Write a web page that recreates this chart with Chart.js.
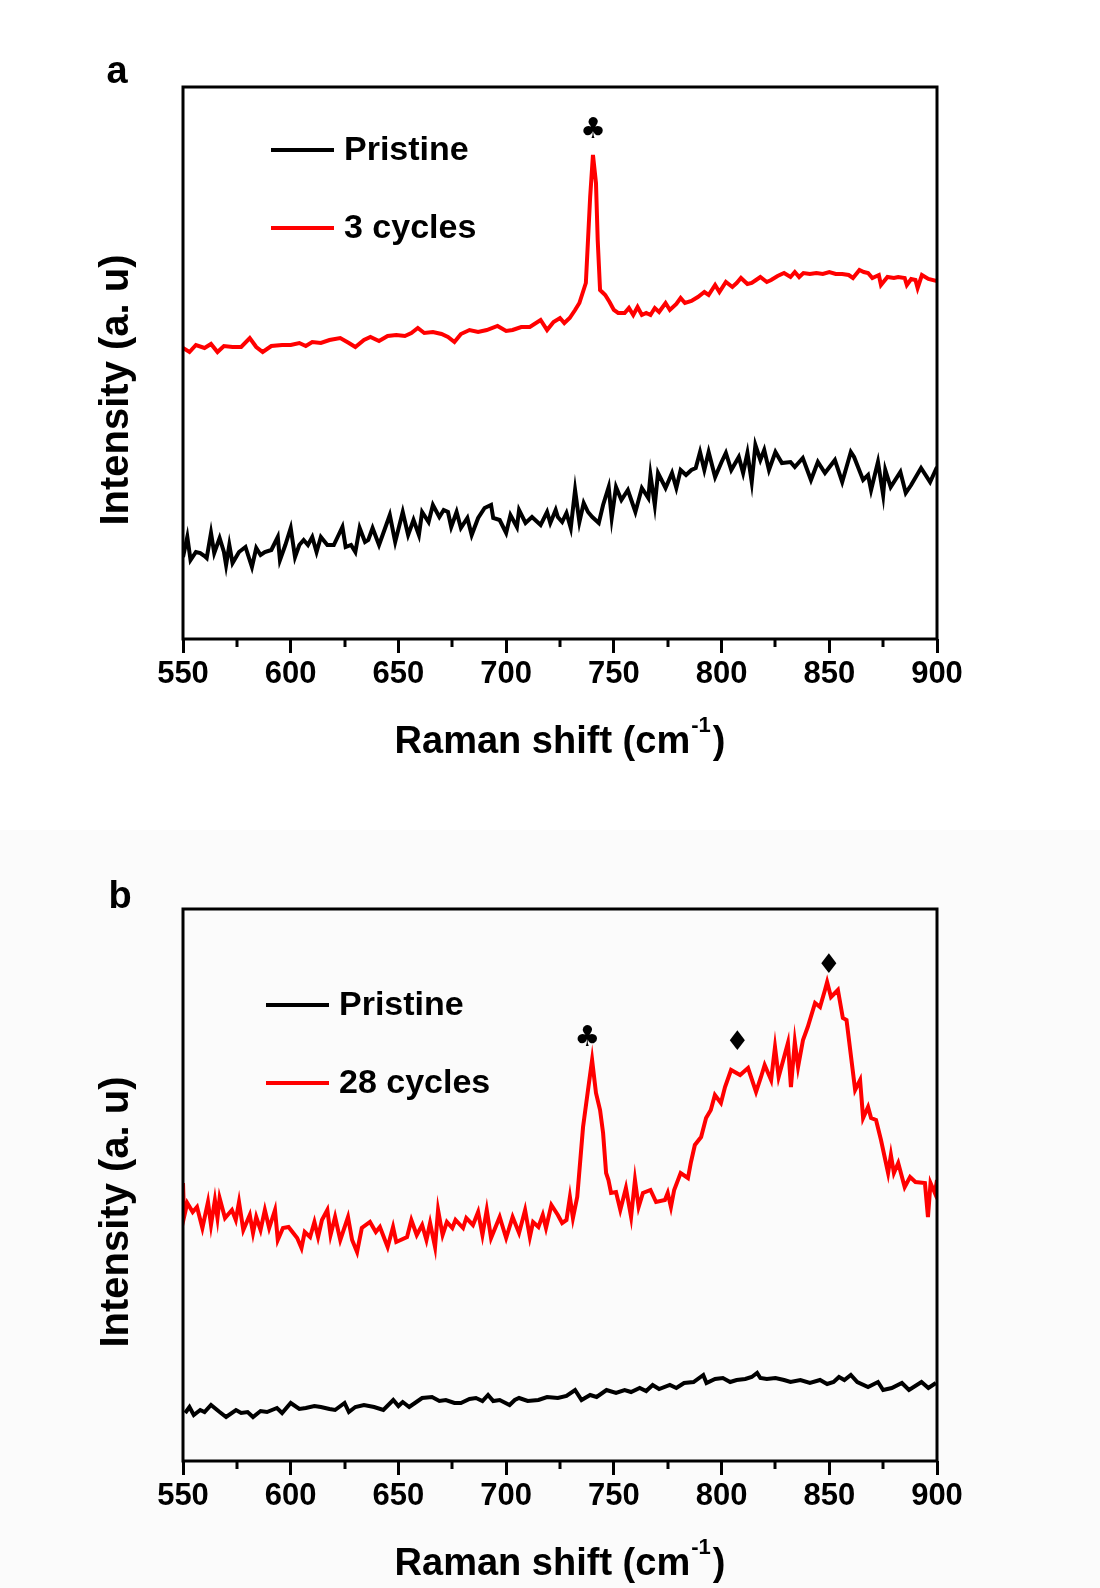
<!DOCTYPE html>
<html>
<head>
<meta charset="utf-8">
<title>Raman spectra</title>
<script src="https://cdn.jsdelivr.net/npm/chart.js@4.4.1/dist/chart.umd.min.js"></script>
<style>
  html, body { margin: 0; padding: 0; background: #fff; }
  #wrap { position: relative; width: 1100px; height: 1588px; }
  #panel-a { position: absolute; left: 0; top: 0; }
  #panel-b { position: absolute; left: 0; top: 830px; background: #fbfbfb; }
</style>
</head>
<body>
<div id="wrap">
  <canvas id="panel-a" width="1100" height="830"></canvas>
  <canvas id="panel-b" width="1100" height="758"></canvas>
</div>
<script>
// DATA  [Raman shift (cm-1), intensity (a.u.)]

var pristineA = [[550,82],[552,102],[553.5,79],[556,87],[558,86],[560,83],[561,81],[563,106],[564.5,86],[567,101],[569,87],[570,74],[571.5,94],[573,76],[576,87],[579,92],[582,72],[584,91],[586,84],[588,87],[591,89],[594,102],[595,79],[597.5,94],[600,111],[602,82],[604,94],[606,99],[608,94],[610,102],[612,87],[614,102],[617,94],[620,94],[622,103],[624,112],[625.5,92],[628,94],[630,87],[632,111],[634.5,97],[636,99],[638,111],[641,94],[643,106],[646,124],[648.5,97],[652,127],[654.5,104],[657,119],[659.5,104],[661,127],[664,117],[666,134],[669,122],[671,129],[673,127],[674.5,112],[677,127],[679,111],[682,121],[684,104],[687,121],[690,131],[693,134],[694,121],[697,119],[700,106],[702,124],[705,112],[706,129],[709,116],[712,122],[714,118],[716,114],[719,127],[720.5,116],[723,129],[724,122],[726,117],[728,126],[730,111],[732,149],[734,117],[736,136],[738,127],[740,122],[743,116],[745,134],[747.6,152],[749,121],[751,152],[753.5,139],[756.5,149],[760,127],[763,151],[766,141],[767,164],[769,134],[770.5,166],[774,151],[777,166],[779,151],[781,169],[783.5,164],[786,169],[788,171],[790,187],[792,169],[794,187],[797,162],[800,177],[802,186],[804.5,169],[808,182],[810,166],[812,186],[814,157],[815.7,194],[818,179],[819.8,189],[822,169],[825,187],[828,176],[832,177],[834,172],[837.7,181],[841.5,159],[844.7,177],[848,166],[852.6,179],[856,157],[858,172],[860,187],[861.5,182],[865.7,159],[868,164],[869.4,149],[872.6,177],[875,144],[876,169],[878.5,152],[883,167],[885.5,146],[888,154],[892.6,171],[896.8,157],[900,172]];

var cycles3 = [[550,291],[553,287],[556,294],[560,291],[563,295],[566,287],[569,293],[573,292],[577,292],[581,301],[584,292],[587,287],[591,293],[596,294],[600,294],[604,296],[607,293],[610,297],[614,296],[618,299],[623,301],[627,296],[630,292],[634,299],[637,302],[641,298],[645,303],[649,304],[653,303],[656,306],[659,311],[662,306],[666,307],[670,305],[673,302],[676,297],[679,305],[683,309],[687,307],[691,309],[696,313],[700,308],[703,309],[707,312],[711,312],[716,319],[719,309],[722,317],[725,321],[727,316],[729.5,321],[732,329],[734,336],[737,356],[738,399],[739,442],[740.3,484],[741.7,456],[742.5,399],[743.6,349],[746,344],[748,337],[750,329],[752,326],[755,326],[757,331],[759,324],[761,332],[763,324],[765,326],[767,324],[769,331],[771,327],[774,336],[776,329],[779,335],[781,341],[783,336],[786,338],[789,342],[792,347],[794,344],[797,354],[799,347],[802,357],[805,352],[807,356],[809,361],[812,355],[814,356],[816,359],[818,362],[821,357],[823,359],[826,363],[829,366],[832,362],[834,367],[836,362],[838,366],[841,365],[844,366],[847,365],[850,367],[853,365],[856,365],[859,364],[861,361],[864,369],[866,367],[868,366],[870,361],[873,364],[874,354],[877,362],[880,361],[882,362],[885,361],[886,354],[888,360],[890,359],[891,351],[893,364],[896,360],[900,358]];

var pristineB = [[551,48],[553,54],[555,46],[558,51],[560,49],[563,56],[567,49],[570,44],[574.6,51],[577,48],[580,49],[582.5,44],[586,50],[589,49],[593.6,53],[596,48],[600,58],[604,52],[607,53],[611,55],[614,54],[618,52],[620.6,51],[625,58],[627,49],[630,54],[634,56],[638.7,54],[643,51],[647.6,61],[650,55],[652,59],[655,54],[659,60],[661,63],[665.6,64],[669,60],[672,61],[676,58],[679,58],[683,62],[686,63],[689,60],[691.6,66],[694,60],[697,61],[701.6,56],[704,61],[706,63],[710,60],[715,61],[719,64],[724,63],[728,65],[732,71],[735,61],[739,66],[742,64],[746.6,71],[751,68],[755,71],[758,69],[762,73],[765,70],[768,76],[771,72],[776,76],[779,73],[782.6,78],[787,79],[791.5,86],[793,78],[797,82],[800.6,83],[804,79],[807,81],[811,82],[814,84],[816.5,88],[818,83],[821,82],[825,83],[829,81],[832,79],[836.6,81],[841,78],[845.7,81],[849,77],[852,79],[854.5,84],[857,81],[860,86],[863,79],[868,74],[872.6,79],[875,71],[879,73],[883.7,78],[887,71],[892.8,79],[896,73],[899.5,78]];

var cycles28 = [[550,278],[550.5,244],[552,258],[554.5,249],[556.5,254],[559,233],[561.6,259],[563,236],[564.8,261],[566,243],[567,263],[569.5,243],[572.7,251],[574.5,241],[576,259],[578,231],[581,246],[582.5,228],[584,244],[586,231],[588,251],[590,233],[592.7,251],[594,221],[596.4,233],[599,234],[603,223],[605,213],[606.5,229],[609,224],[611,239],[612.7,224],[614.5,241],[617,251],[618.5,226],[620.6,244],[623,221],[626.6,244],[628.5,221],[630.8,209],[633,233],[636.8,239],[639.5,229],[641.4,234],[645,214],[647.5,234],[649,219],[654,224],[656,241],[658.5,226],[661,236],[663,221],[664.7,238],[667,214],[668.4,251],[670.5,226],[672.5,239],[675,233],[676.5,241],[680,233],[681.5,243],[684.6,236],[687,249],[689,226],[691,251],[693,223],[697,244],[700,223],[703,244],[706,228],[708.8,251],[711,224],[712.5,239],[715,234],[717,246],[718.5,233],[721,256],[724,246],[726,238],[728,241],[729.6,264],[731,243],[733,264],[735.7,334],[738,371],[739.9,401],[741.7,368],[743.6,351],[745,328],[746.4,288],[747.5,281],[748.7,268],[751,269],[753,251],[755.6,273],[758,244],[759.8,281],[761.5,254],[763.5,268],[767,271],[769.6,259],[773.7,261],[775,268],[776.5,254],[778,271],[781,288],[784.4,283],[785.8,299],[787.6,316],[790.5,324],[792.8,343],[795,351],[796.9,366],[799.7,358],[801.6,374],[804.4,391],[808.6,386],[812.3,393],[816,369],[818.3,384],[820,396],[823,381],[824.8,414],[826.5,384],[830.8,418],[832.2,374],[834,419],[835.5,394],[837.8,421],[840,434],[843.4,458],[845.7,454],[848,471],[849,479],[850.8,464],[854,471],[856.3,443],[858,441],[862,371],[864.3,381],[865.7,343],[868,354],[869.4,343],[871.7,341],[874,321],[877.3,288],[878.6,306],[880,288],[882,298],[885,274],[887.5,284],[890,279],[894.4,278],[895.8,244],[897,278],[899,268],[900,281]];

var minorTicks = [575, 625, 675, 725, 775, 825, 875];
var xTitle = ["Raman shift (cm", "-1", ")"];
var yTitle = "Intensity (a. u)";

var FONT = "'Liberation Sans', Arial, sans-serif";
var SYM_FONT = "'DejaVu Sans', sans-serif";
Chart.defaults.font.family = FONT;
Chart.defaults.color = "#000";

function toXY(arr) {
  return arr.map(function (p) { return { x: p[0], y: p[1] }; });
}

// frame, minor ticks, legend, peak marks and axis titles
var decor = {
  id: "decor",
  afterDraw: function (chart, args, o) {
    var ctx = chart.ctx, a = chart.chartArea;
    var xs = chart.scales.x, ys = chart.scales.y;
    ctx.save();
    ctx.strokeStyle = "#000";
    ctx.lineWidth = 3;
    ctx.strokeRect(a.left, a.top, a.right - a.left, a.bottom - a.top);

    minorTicks.forEach(function (v) {
      var px = Math.round(xs.getPixelForValue(v));
      ctx.beginPath();
      ctx.moveTo(px, a.bottom);
      ctx.lineTo(px, a.bottom + 8);
      ctx.stroke();
    });

    // legend
    ctx.font = "bold 34px " + FONT;
    ctx.textAlign = "left";
    ctx.textBaseline = "middle";
    chart.data.datasets.forEach(function (ds, i) {
      var lx = a.left + o.legendX, ly = a.top + o.legendY[i];
      ctx.strokeStyle = ds.borderColor;
      ctx.lineWidth = 4;
      ctx.beginPath();
      ctx.moveTo(lx, ly);
      ctx.lineTo(lx + 63, ly);
      ctx.stroke();
      ctx.fillStyle = "#000";
      ctx.fillText(ds.label, lx + 73, ly + 1);
    });

    // peak marks
    ctx.textAlign = "center";
    o.marks.forEach(function (m) {
      ctx.font = (m.s === "\u2663" ? "29px " : "27px ") + SYM_FONT;
      ctx.fillText(m.s, xs.getPixelForValue(m.x), ys.getPixelForValue(m.y));
    });

    // panel letter
    ctx.font = "bold 38px " + FONT;
    ctx.fillText(o.letter, o.letterX, a.top - o.letterUp);

    // x title with superscript
    var bigF = "bold 38px " + FONT, supF = "bold 22px " + FONT;
    ctx.font = bigF; var w0 = ctx.measureText(xTitle[0]).width;
    var w2 = ctx.measureText(xTitle[2]).width;
    ctx.font = supF; var w1 = ctx.measureText(xTitle[1]).width;
    var total = w0 + w1 + w2 + 3;
    var sx = (a.left + a.right) / 2 - total / 2, by = a.bottom + 114;
    ctx.textAlign = "left";
    ctx.textBaseline = "alphabetic";
    ctx.font = bigF; ctx.fillText(xTitle[0], sx, by);
    ctx.font = supF; ctx.fillText(xTitle[1], sx + w0 + 1, by - 21);
    ctx.font = bigF; ctx.fillText(xTitle[2], sx + w0 + w1 + 3, by);

    // y title
    ctx.translate(117, (a.top + a.bottom) / 2 + 27);
    ctx.rotate(-Math.PI / 2);
    ctx.font = "bold 40px " + FONT;
    ctx.textAlign = "center";
    ctx.textBaseline = "middle";
    ctx.fillText(yTitle, 0, 0);
    ctx.restore();
  }
};

function makeChart(id, sets, padTop, axisH, deco) {
  var ctx = document.getElementById(id).getContext("2d");
  return new Chart(ctx, {
    type: "line",
    data: {
      datasets: sets.map(function (s) {
        return {
          label: s.label,
          data: toXY(s.data),
          borderColor: s.color,
          backgroundColor: s.color,
          borderWidth: 4,
          pointRadius: 0,
          tension: 0,
          fill: false
        };
      })
    },
    options: {
      responsive: false,
      animation: false,
      events: [],
      layout: { padding: { left: 183, right: 163, top: padTop, bottom: 0 } },
      scales: {
        x: {
          type: "linear",
          min: 550,
          max: 900,
          ticks: {
            stepSize: 50,
            autoSkip: false,
            maxRotation: 0,
            padding: 3,
            color: "#000",
            font: { size: 31, weight: "bold" }
          },
          grid: { drawOnChartArea: false, tickLength: 14, tickWidth: 3, tickColor: "#000" },
          border: { display: false },
          afterFit: function (s) { s.height = axisH; s.paddingLeft = 0; s.paddingRight = 0; }
        },
        y: { display: false, min: 0, max: 552 }
      },
      plugins: {
        legend: { display: false },
        tooltip: { enabled: false },
        decor: deco
      }
    },
    plugins: [decor]
  });
}

// a
makeChart("panel-a", [
  { label: "Pristine", data: pristineA, color: "#000000" },
  { label: "3 cycles", data: cycles3, color: "#ff0000" }
], 87, 191, {
  letter: "a", letterX: 117, letterUp: 14,
  legendX: 88, legendY: [63, 141],
  marks: [{ x: 740.3, y: 509, s: "\u2663" }]
});

// b
makeChart("panel-b", [
  { label: "Pristine", data: pristineB, color: "#000000" },
  { label: "28 cycles", data: cycles28, color: "#ff0000" }
], 79, 127, {
  letter: "b", letterX: 120, letterUp: 11,
  legendX: 83, legendY: [96, 174],
  marks: [
    { x: 737.7, y: 423, s: "\u2663" },
    { x: 807.3, y: 418, s: "\u2666" },
    { x: 849.8, y: 495, s: "\u2666" }
  ]
});
</script>
</body>
</html>
